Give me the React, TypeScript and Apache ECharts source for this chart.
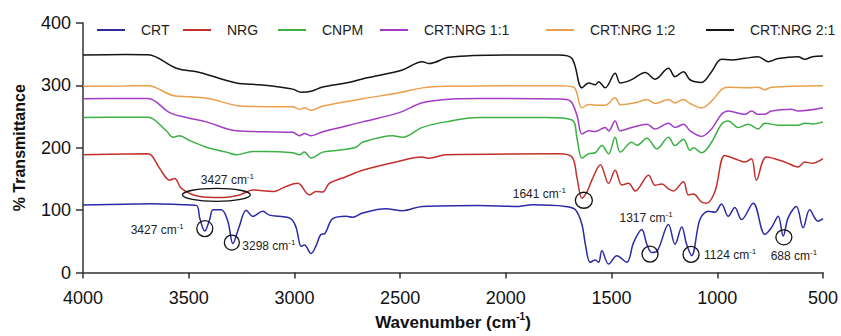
import React, { useEffect, useRef } from "react";
import * as echarts from "echarts";

const seriesNames = ["CRT", "NRG", "CNPM", "CRT:NRG 1:1", "CRT:NRG 1:2", "CRT:NRG 2:1"];
const seriesColors = ["#2b2ba6", "#c3302c", "#3cb043", "#a23cc4", "#e9a04e", "#151515"];

const xTicks = [4000, 3500, 3000, 2500, 2000, 1500, 1000, 500];
const yTicks = [0, 100, 200, 300, 400];

const crt: number[][] = [
  [4000, 108.4], [3800, 109.5], [3676, 110.1], [3550, 109], [3464, 107.6], [3448, 87.5], [3424, 66.5],
  [3401, 84.8], [3385, 100.6], [3346, 100.6], [3315, 82.3], [3291, 46.4], [3263, 71.7], [3228, 100],
  [3197, 90], [3150, 98], [3118, 92], [3071, 90], [3016, 86], [2992, 72], [2968, 42], [2953, 44],
  [2921, 30.5], [2898, 42.7], [2874, 61.1], [2858, 62], [2819, 86.4], [2756, 90.2], [2725, 88.6],
  [2678, 95.4], [2568, 102.2], [2489, 99.1], [2395, 106], [2127, 107.6], [1939, 106], [1876, 108.5],
  [1718, 106], [1671, 100.6], [1640, 76.9], [1624, 45.3], [1601, 16.3], [1577, 20], [1561, 16.3],
  [1546, 34.8], [1514, 13.6], [1475, 26.9], [1428, 16.3], [1396, 47.9], [1357, 69], [1333, 45.3],
  [1310, 32.1], [1285, 34], [1231, 76.9], [1200, 45.3], [1168, 72.8], [1145, 45], [1121, 26.9],
  [1082, 84.8], [1043, 98.1], [1011, 96.5], [980, 109.7], [948, 90.2], [917, 104.4], [885, 84.8],
  [830, 111.2], [775, 61.1], [744, 71.7], [712, 90.2], [688, 58.5], [665, 87.5], [626, 106],
  [594, 71.7], [563, 100.6], [524, 82.3], [500, 86.4],
];

const nrg: number[][] = [
  [4000, 188.8], [3800, 190], [3692, 190.3], [3637, 166.6], [3590, 148], [3566, 150.8], [3535, 135],
  [3448, 121.8], [3354, 120.2], [3259, 124.4], [3197, 132.3], [3102, 129.7], [3040, 138], [2984, 142.9],
  [2929, 124.4], [2898, 129.7], [2866, 129], [2835, 142.9], [2756, 153.5], [2678, 163.9], [2520, 177.2],
  [2395, 185.1], [2363, 183], [2284, 188.8], [1750, 190.3], [1687, 185.1], [1663, 150.8], [1640, 119.1],
  [1616, 129.7], [1593, 148], [1553, 172.9], [1514, 142.9], [1483, 163.9], [1451, 140.2], [1420, 142.9],
  [1388, 130.7], [1325, 156], [1294, 140], [1262, 142], [1231, 133.9], [1208, 130.7], [1160, 145.6],
  [1137, 124.4], [1113, 126], [1074, 112.8], [1050, 111.2], [1011, 129.7], [964, 187.7], [917, 182.4],
  [869, 177.2], [838, 182.4], [815, 148], [767, 185.1], [681, 177.2], [618, 169.3], [586, 177.2],
  [550, 175], [500, 182.4],
];

const cnpm: number[][] = [
  [4000, 248.4], [3800, 249], [3692, 248.9], [3606, 227.2], [3574, 216.8], [3543, 219.3], [3495, 211.4],
  [3417, 200.9], [3322, 193], [3275, 188.8], [3197, 194], [3134, 194], [3008, 191.9], [2976, 188.8],
  [2953, 193], [2921, 183.5], [2866, 193], [2803, 195.6], [2709, 200.9], [2678, 208.8], [2536, 219.3],
  [2489, 216.8], [2395, 232.6], [2284, 241.5], [2127, 248.4], [1813, 248.4], [1687, 244.6], [1663, 214],
  [1640, 183.5], [1608, 190.3], [1577, 192], [1546, 203.5], [1514, 190.3], [1483, 216.8], [1459, 193],
  [1404, 208.8], [1380, 204], [1333, 215.2], [1286, 198.3], [1231, 216.8], [1200, 203.5], [1160, 213.6],
  [1129, 195.6], [1113, 200], [1074, 191.9], [1027, 208.8], [980, 237.8], [948, 243], [901, 232.5],
  [854, 237.8], [807, 230], [775, 239.4], [712, 236.2], [618, 236], [586, 239.4], [550, 238], [500, 241.5],
];

const crtNrg11: number[][] = [
  [4000, 278.5], [3800, 279], [3692, 279], [3590, 256.3], [3511, 248.4], [3417, 241.5], [3275, 227.2],
  [3134, 225.6], [3008, 224.7], [2976, 219.3], [2953, 223], [2921, 219.3], [2866, 225.6], [2678, 241.5],
  [2505, 256.3], [2395, 272], [2284, 277.4], [2127, 278.9], [1750, 278], [1695, 274.7], [1663, 251],
  [1640, 222], [1608, 227.2], [1577, 226], [1530, 232.4], [1514, 227], [1483, 243], [1459, 227.2],
  [1404, 232.5], [1333, 237.8], [1294, 230], [1231, 239.4], [1200, 232.5], [1160, 237.8], [1129, 227.2],
  [1074, 218.2], [1027, 230], [980, 253.6], [948, 258.9], [869, 253.6], [838, 258.9], [807, 253.6],
  [775, 253.6], [744, 258.9], [650, 261.6], [618, 258.9], [500, 264],
];

const crtNrg12: number[][] = [
  [4000, 298.4], [3800, 299], [3692, 299.5], [3574, 283.7], [3495, 281.6], [3401, 278.5], [3275, 267.9],
  [3134, 265.8], [3008, 265.8], [2976, 261.6], [2953, 264], [2921, 260], [2866, 266.8], [2678, 278.5],
  [2505, 288], [2395, 296], [2284, 298.4], [1750, 299.5], [1679, 297], [1640, 264], [1608, 269.5],
  [1577, 268], [1530, 268], [1483, 280], [1459, 268.9], [1388, 272], [1333, 277.4], [1294, 271],
  [1231, 277.4], [1200, 271.9], [1160, 277.4], [1129, 271], [1074, 264], [1027, 274.7], [980, 293.2],
  [948, 296.8], [854, 296], [807, 297], [775, 293], [744, 297], [500, 299.5],
];

const crtNrg21: number[][] = [
  [4000, 348.6], [3800, 349.5], [3692, 349], [3558, 327.5], [3448, 320.6], [3275, 303.8], [3165, 301],
  [3071, 297.5], [3008, 294], [2968, 289], [2921, 290.5], [2866, 297.5], [2756, 303.8], [2662, 311.7],
  [2489, 324.8], [2395, 338], [2363, 335], [2269, 345], [2002, 348.6], [1750, 348.6], [1687, 343],
  [1640, 296], [1608, 303.8], [1577, 301], [1561, 306], [1530, 296], [1483, 319.6], [1459, 303.8],
  [1428, 306], [1400, 310], [1341, 320.6], [1294, 310], [1231, 327.5], [1200, 314], [1160, 322],
  [1129, 309], [1074, 304.7], [1027, 322], [980, 341.8], [932, 340.7], [869, 343.4], [807, 346],
  [759, 338], [712, 343], [618, 346], [586, 341.8], [550, 346], [500, 347],
];

const seriesData = [crt, nrg, cnpm, crtNrg11, crtNrg12, crtNrg21];

// annotation anchors in data space: [wavenumber, % transmittance, label]
const annotPoints: [number, number, string][] = [
  [3369, 124.5, "3427"],
  [3424, 70.5, "3427"],
  [3296, 48, "3298"],
  [1631, 115.8, "1641"],
  [1318, 29.5, "1317"],
  [1124, 29, "1124"],
  [685, 56.4, "688"],
];
// styling of each annotation: ellipse radii, label offset and alignment
const annotStyles = [
  { rx: 34, ry: 6.5, dx: 11, dy: -15, align: "center" },
  { rx: 8, ry: 8, dx: -21, dy: 1, align: "right" },
  { rx: 7.5, ry: 7.5, dx: 10.5, dy: 3, align: "left" },
  { rx: 8.5, ry: 8, dx: -18, dy: -6.5, align: "right" },
  { rx: 8, ry: 8, dx: -4, dy: -36, align: "center" },
  { rx: 8, ry: 8, dx: 13, dy: 1, align: "left" },
  { rx: 8, ry: 7.5, dx: 10, dy: 18.6, align: "center" },
];

const legendLeft = [97, 183, 278, 380, 546, 706];

const FONT = "'Liberation Sans', Arial, Helvetica, sans-serif";

export default function App() {
  const ref = useRef<HTMLDivElement>(null);

  useEffect(() => {
    document.body.style.margin = "0";
    if (!ref.current) return;
    const chart = echarts.init(ref.current, undefined, { renderer: "svg" });

    const option: any = {
      animation: false,
      backgroundColor: "#ffffff",
      textStyle: { fontFamily: FONT },
      grid: { left: 83, right: 16, top: 23, bottom: 61, containLabel: false },
      legend: seriesNames.map((n, i) => ({
        data: [{ name: n, icon: "rect" }],
        left: legendLeft[i],
        top: 23,
        itemWidth: 28,
        itemHeight: 2,
        padding: 0,
        textStyle: { fontSize: 14, color: "#222", fontFamily: FONT, padding: [0, 0, 0, 11] },
      })),
      xAxis: {
        type: "value",
        inverse: true,
        min: 500,
        max: 4000,
        interval: 500,
        name: "{a|Wavenumber (cm}{b|-1}{a|)}",
        nameLocation: "middle",
        nameGap: 39,
        nameTextStyle: {
          rich: {
            a: { fontSize: 17, fontWeight: "bold", color: "#111", fontFamily: FONT, lineHeight: 22 },
            b: { fontSize: 10, fontWeight: "bold", color: "#111", fontFamily: FONT, verticalAlign: "top", lineHeight: 12 },
          },
        },
        axisLine: { show: true, lineStyle: { color: "#333", width: 1.5 } },
        axisTick: { show: true, length: 6, lineStyle: { color: "#333", width: 1.5 } },
        axisLabel: {
          fontSize: 18,
          color: "#111",
          margin: 16,
          fontFamily: FONT,
          formatter: (v: number) => (xTicks.includes(v) ? String(v) : ""),
        },
        splitLine: { show: false },
      },
      yAxis: {
        type: "value",
        min: 0,
        max: 400,
        interval: 100,
        name: "% Transmittance",
        nameLocation: "middle",
        nameGap: 56,
        nameTextStyle: { fontSize: 16, fontWeight: "bold", color: "#111", fontFamily: FONT },
        axisLine: { show: true, lineStyle: { color: "#333", width: 1.5 } },
        axisTick: { show: true, length: 7, lineStyle: { color: "#333", width: 1.5 } },
        axisLabel: {
          fontSize: 18,
          color: "#111",
          margin: 12,
          fontFamily: FONT,
          formatter: (v: number) => (yTicks.includes(v) ? String(v) : ""),
        },
        splitLine: { show: false },
      },
      series: seriesNames.map((n, i) => ({
        name: n,
        type: "line",
        data: seriesData[i],
        symbol: "none",
        smooth: 0.35,
        color: seriesColors[i],
        lineStyle: { width: 1.5, color: seriesColors[i] },
        z: 2,
      })),
    };
    chart.setOption(option);

    const graphics: any[] = [];
    annotPoints.forEach((p, i) => {
      const s = annotStyles[i];
      const px = chart.convertToPixel({ gridIndex: 0 }, [p[0], p[1]]) as number[];
      if (!px) return;
      graphics.push({
        type: "ellipse",
        shape: { cx: px[0], cy: px[1], rx: s.rx, ry: s.ry },
        style: { fill: "none", stroke: "#111", lineWidth: 1.3 },
        z: 10,
      });
      graphics.push({
        type: "text",
        x: px[0] + s.dx,
        y: px[1] + s.dy,
        z: 10,
        style: {
          text: `{a|${p[2]} cm}{b|-1}`,
          align: s.align,
          verticalAlign: "middle",
          rich: {
            a: { fontSize: 12, fill: "#222", fontFamily: FONT, lineHeight: 15 },
            b: { fontSize: 8, fill: "#222", fontFamily: FONT, verticalAlign: "top", lineHeight: 9 },
          },
        },
      });
    });
    chart.setOption({ graphic: graphics });

    return () => chart.dispose();
  }, []);

  return <div ref={ref} style={{ width: 841, height: 336 }} />;
}
